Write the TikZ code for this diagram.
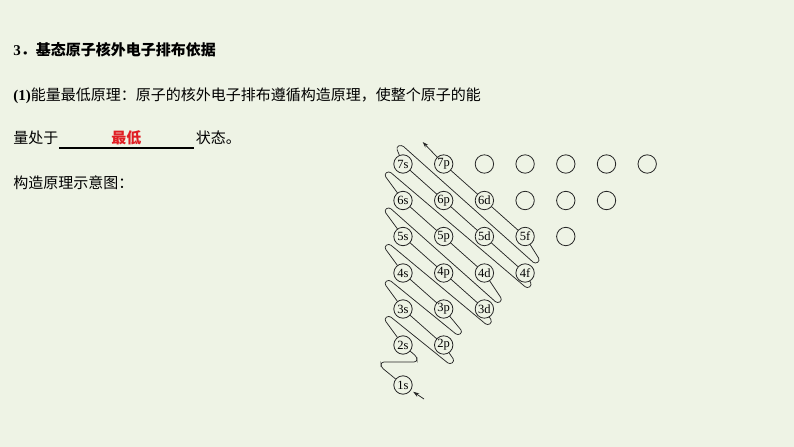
\documentclass[tikz,border=0pt]{standalone}
\usepackage{fontspec}
\setmainfont{Liberation Serif}
\newfontfamily\cjk{Noto Sans CJK SC}
\usetikzlibrary{arrows.meta,positioning,calc,backgrounds}
\definecolor{bgc}{RGB}{238,243,229}
\definecolor{ansred}{RGB}{224,30,36}

\begin{document}
\begin{tikzpicture}[x=0.75pt, y=-0.75pt,
        txt/.style = {anchor=base west, inner sep=0pt, font=\cjk\fontsize{11.25}{13}\selectfont},
        orb/.style = {circle, draw=black!85, line width=0.6pt, fill=bgc, minimum size=13.8pt, inner sep=0pt, font=\fontsize{9.4}{10}\selectfont},
        trail/.style = {draw=black!85, line width=0.55pt, rounded corners=2.2pt},
        arr/.style = {-{Stealth[length=4.5pt, width=3pt]}, line width=0.55pt, draw=black!85},
        uline/.style = {line width=1.1pt, draw=black}
    ]
        % Text lines
        \node[txt, font=\cjk\bfseries\fontsize{11.25}{13}\selectfont] (title) at (13,55) {{\rmfamily 3}．基态原子核外电子排布依据};
        \node[txt] (rule) at (13,100.5) {{\rmfamily\bfseries (1)}能量最低原理：原子的核外电子排布遵循构造原理，使整个原子的能};
        \node[txt] (lead) at (13,143.5) {量处于};
        \node[txt, minimum width=100.5pt, text=ansred, font=\cjk\bfseries\fontsize{11.25}{13}\selectfont] (ans) at (59,143.5) {最低};
        \node[txt] (tail) at ($(ans.base east)+(2,0)$) {状态。};
        \node[txt] (cap) at (13,188) {构造原理示意图：};
        \draw[uline] ($(ans.base west)+(0,4.5)$) -- ($(ans.base east)+(0,4.5)$);

        % Orbitals, row by row
        \node[orb] (s1) at (403,385) {1s};
        \node[orb] (s2) at (403,345) {2s};
        \node[orb] (p2) at (443.7,345) {2p};
        \node[orb] (s3) at (403,309) {3s};
        \node[orb] (p3) at (443.7,309) {3p};
        \node[orb] (d3) at (484.4,309) {3d};
        \node[orb] (s4) at (403,273) {4s};
        \node[orb] (p4) at (443.7,273) {4p};
        \node[orb] (d4) at (484.4,273) {4d};
        \node[orb] (f4) at (525.1,273) {4f};
        \node[orb] (s5) at (403,236.5) {5s};
        \node[orb] (p5) at (443.7,236.5) {5p};
        \node[orb] (d5) at (484.4,236.5) {5d};
        \node[orb] (f5) at (525.1,236.5) {5f};
        \node[orb] (e5a) at (565.8,236.5) {};
        \node[orb] (s6) at (403,200.5) {6s};
        \node[orb] (p6) at (443.7,200.5) {6p};
        \node[orb] (d6) at (484.4,200.5) {6d};
        \node[orb] (e6a) at (525.1,200.5) {};
        \node[orb] (e6b) at (565.8,200.5) {};
        \node[orb] (e6c) at (606.5,200.5) {};
        \node[orb] (s7) at (403,164) {7s};
        \node[orb] (p7) at (443.7,164) {7p};
        \node[orb] (e7a) at (484.4,164) {};
        \node[orb] (e7b) at (525.1,164) {};
        \node[orb] (e7c) at (565.8,164) {};
        \node[orb] (e7d) at (606.5,164) {};
        \node[orb] (e7e) at (647.2,164) {};

        % Turning points of the filling line
        \coordinate (q1) at ($(s1)+(-22,-18)$);
        \coordinate (q2) at ($(q1)+(0,-5)$);
        \coordinate (b2) at ($(s2)+(14,12)$);
        \coordinate (q3) at (b2 |- q2);
        \coordinate (t2) at ($(s2)+(-19,-26)$);
        \coordinate (t3) at ($(s3)+(-19,-26)$);
        \coordinate (t4) at ($(s4)+(-19,-26)$);
        \coordinate (t5) at ($(s5)+(-19,-26)$);
        \coordinate (t6) at ($(s6)+(-19,-26)$);
        \coordinate (t7) at ($(s7)+(-7,-17)$);
        \coordinate (b3) at ($(p2)+(11,16)$);
        \coordinate (b4) at ($(p3)+(19,23)$);
        \coordinate (b5) at ($(d3)+(8,13)$);
        \coordinate (b6) at ($(d4)+(18,27)$);
        \coordinate (b7) at ($(f4)+(7,12)$);
        \coordinate (b8) at ($(f5)+(15,24)$);
        \coordinate (a8) at ($(p7)+(-21,-22)$);
        \coordinate (a1) at ($(s1)+(21,14)$);

        % Start arrow
        \draw[arr, shorten >=2pt] (a1) -- (s1);

        % Filling order line, under the circles
        \begin{scope}[on background layer]
            \fill[bgc] (0,0) rectangle (794,447);
            \draw[trail, -{Stealth[length=4.5pt, width=3pt]}] (s1) -- (q1) -- (q2) -- (q3) -- (b2) -- (s2.center) -- (t2) -- ++(4.8,-3.6)
                -- ($(b3)+(-4.8,3.6)$) -- (b3) -- (p2.center) -- (s3.center) -- (t3) -- ++(4.8,-3.6)
                -- ($(b4)+(-4.8,3.6)$) -- (b4) -- (p3.center) -- (s4.center) -- (t4) -- ++(4.8,-3.6)
                -- ($(b5)+(-4.8,3.6)$) -- (b5) -- (d3.center) -- (s5.center) -- (t5) -- ++(4.8,-3.6)
                -- ($(b6)+(-4.8,3.6)$) -- (b6) -- (d4.center) -- (s6.center) -- (t6) -- ++(4.8,-3.6)
                -- ($(b7)+(-4.8,3.6)$) -- (b7) -- (f4.center) -- (s7.center) -- (t7) -- ++(5.5,-2.3)
                -- ($(b8)+(-4.8,3.6)$) -- (b8) -- (f5.center) -- (p7.center) -- (a8);
        \end{scope}
    \end{tikzpicture}
\end{document}
